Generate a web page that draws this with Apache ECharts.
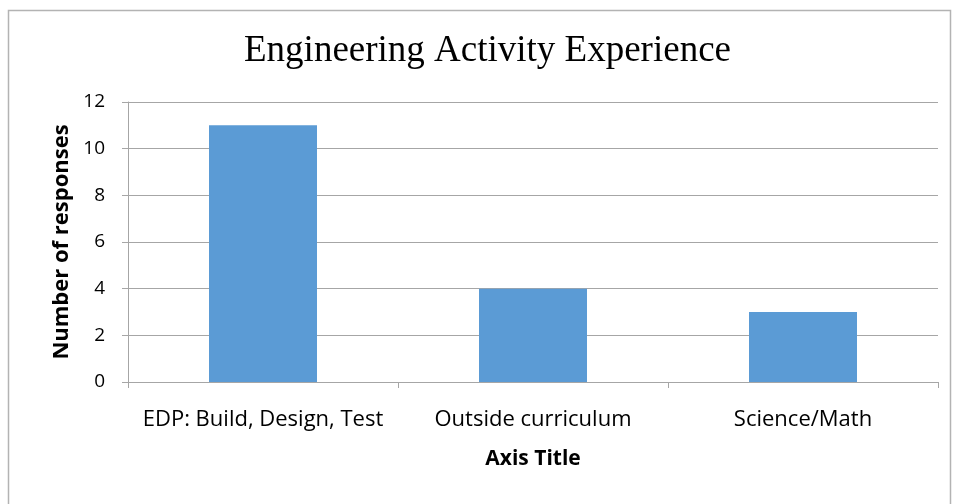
<!DOCTYPE html>
<html>
<head>
<meta charset="utf-8">
<script src="https://cdn.jsdelivr.net/npm/echarts@6/dist/echarts.min.js"></script>
<style>
  html, body { margin: 0; padding: 0; background: #ffffff; }
  #chart { width: 954px; height: 504px; }
</style>
</head>
<body>
<div id="chart"></div>
<script>
const categories = ['EDP: Build, Design, Test', 'Outside curriculum', 'Science/Math'];
const responses = [11, 4, 3];

const labelFont = '"Open Sans", sans-serif';
const axisGray = '#a6a6a6';

const chart = echarts.init(document.getElementById('chart'));

const option = {
  backgroundColor: '#ffffff',
  animation: false,
  title: {
    text: 'Engineering Activity Experience',
    left: 239,
    top: 28,
    textStyle: {
      fontFamily: '"Liberation Serif", serif',
      fontWeight: 'normal',
      fontSize: 37,
      color: '#000000'
    }
  },
  graphic: [
    {
      type: 'rect',
      shape: { x: 8.5, y: 10.5, width: 942, height: 520 },
      style: { fill: 'none', stroke: '#b3b3b3', lineWidth: 1.5 },
      silent: true
    }
  ],
  grid: {
    left: 128,
    right: 16,
    top: 102,
    bottom: 122
  },
  xAxis: {
    type: 'category',
    data: categories,
    name: 'Axis Title',
    nameLocation: 'middle',
    nameGap: 67,
    nameTextStyle: {
      fontFamily: labelFont,
      fontWeight: 'bold',
      fontSize: 21,
      color: '#000000'
    },
    axisLine: { lineStyle: { color: axisGray, width: 1 } },
    axisTick: { show: true, length: 6, lineStyle: { color: axisGray } },
    axisLabel: {
      interval: 0,
      hideOverlap: false,
      fontFamily: labelFont,
      fontSize: 22,
      color: '#000000',
      margin: 27
    }
  },
  yAxis: {
    type: 'value',
    min: 0,
    max: 12,
    interval: 2,
    name: 'Number of responses',
    nameLocation: 'middle',
    nameGap: 54,
    nameRotate: 90,
    nameTextStyle: {
      fontFamily: labelFont,
      fontWeight: 'bold',
      fontSize: 22,
      color: '#000000'
    },
    axisLine: { show: true, lineStyle: { color: axisGray, width: 1 } },
    axisTick: { show: true, length: 6, lineStyle: { color: axisGray } },
    axisLabel: {
      fontFamily: labelFont,
      fontSize: 19,
      color: '#000000',
      margin: 23
    },
    splitLine: { lineStyle: { color: axisGray, width: 1 } }
  },
  series: [
    {
      name: 'Number of responses',
      type: 'bar',
      data: responses,
      barWidth: '40%',
      itemStyle: { color: '#5b9bd5' }
    }
  ]
};

chart.setOption(option);
</script>
</body>
</html>
